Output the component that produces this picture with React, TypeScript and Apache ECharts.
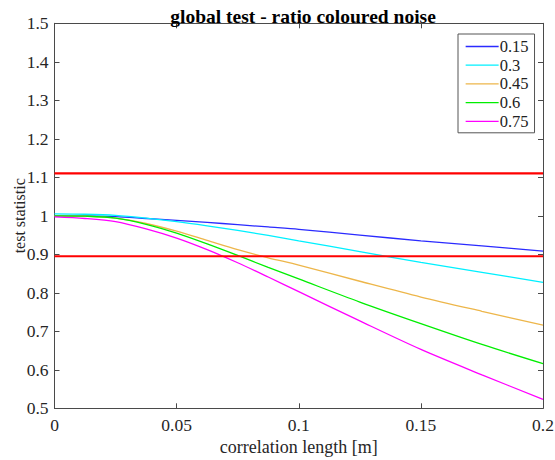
import React, { useEffect, useRef } from "react";
import * as echarts from "echarts";

const xValues = [0, 0.0125, 0.025, 0.0375, 0.05, 0.0625, 0.075, 0.0875, 0.1, 0.125, 0.15, 0.175, 0.2];
const seriesNames = ["0.15", "0.3", "0.45", "0.6", "0.75"];
const blue = [1.0, 1.0, 0.998, 0.993, 0.988, 0.983, 0.977, 0.971, 0.965, 0.95, 0.935, 0.922, 0.908];
const cyan = [1.005, 1.004, 1.001, 0.994, 0.985, 0.974, 0.962, 0.949, 0.935, 0.907, 0.879, 0.853, 0.827];
const orange = [1.0, 0.999, 0.994, 0.98, 0.96, 0.936, 0.912, 0.891, 0.872, 0.83, 0.789, 0.752, 0.716];
const green = [1.0, 0.999, 0.994, 0.978, 0.955, 0.927, 0.897, 0.866, 0.836, 0.776, 0.72, 0.666, 0.616];
const magenta = [0.997, 0.993, 0.985, 0.966, 0.942, 0.912, 0.878, 0.841, 0.803, 0.727, 0.653, 0.587, 0.523];
const thresholdUpper = 1.11;
const thresholdLower = 0.895;
const xTicks = [0, 0.05, 0.1, 0.15, 0.2];

const colors = ["#2b2bff", "#00f0ff", "#edb64a", "#00ee00", "#ff00ff"];
const FONT = "Liberation Serif";

export default function App() {
  const ref = useRef<HTMLDivElement>(null);
  useEffect(() => {
    if (!ref.current) return;
    const chart = echarts.init(ref.current, undefined, { renderer: "svg" });
    const values = [blue, cyan, orange, green, magenta];
    const axisCommon = {
      type: "value" as const,
      axisLine: { show: true, onZero: false, lineStyle: { color: "#4a4a4a", width: 1 } },
      axisTick: { show: true, inside: true, length: 5, lineStyle: { color: "#4a4a4a" } },
      splitLine: { show: false },
    };
    const fmt = (v: number) => String(+v.toFixed(4));
    chart.setOption({
      animation: false,
      backgroundColor: "#ffffff",
      textStyle: { fontFamily: FONT },
      title: {
        text: "global test - ratio coloured noise",
        left: 298,
        textAlign: "center",
        top: 1,
        textStyle: { fontFamily: FONT, fontWeight: "bold", fontSize: 19.5, color: "#000" },
      },
      legend: {
        data: seriesNames,
        orient: "vertical",
        left: 458,
        top: 34,
        itemWidth: 33,
        itemHeight: 14,
        itemGap: 1.7,
        padding: [4, 6, 3, 7],
        backgroundColor: "#ffffff",
        borderColor: "#555",
        borderWidth: 1,
        borderRadius: 0,
        itemStyle: { opacity: 0 },
        lineStyle: { width: 1.3 },
        textStyle: { fontFamily: FONT, fontSize: 16.5, color: "#222", padding: [0, 0, 0, -4] },
      },
      grid: { left: 54.5, right: 12, top: 23.3, bottom: 51.7, containLabel: false, outerBoundsMode: "none" },
      xAxis: [
        {
          ...axisCommon,
          min: 0,
          max: 0.2,
          interval: 0.05,
          name: "correlation length [m]",
          nameLocation: "middle",
          nameGap: 30,
          nameMoveOverlap: false,
          nameTextStyle: { fontFamily: FONT, fontSize: 18, color: "#262626" },
          axisLabel: { fontFamily: FONT, fontSize: 17.5, color: "#262626", margin: 8, formatter: fmt },
        },
        {
          ...axisCommon,
          position: "top",
          min: 0,
          max: 0.2,
          interval: 0.05,
          axisLabel: { show: false },
        },
      ],
      yAxis: [
        {
          ...axisCommon,
          min: 0.5,
          max: 1.5,
          interval: 0.1,
          name: "test statistic",
          nameLocation: "middle",
          nameGap: 27,
          nameMoveOverlap: false,
          nameTextStyle: { fontFamily: FONT, fontSize: 16, color: "#262626" },
          axisLabel: { fontFamily: FONT, fontSize: 17.5, color: "#262626", margin: 6, formatter: fmt },
        },
        {
          ...axisCommon,
          position: "right",
          min: 0.5,
          max: 1.5,
          interval: 0.1,
          axisLabel: { show: false },
        },
      ],
      series: [
        ...seriesNames.map((name, i) => ({
          name,
          type: "line",
          data: xValues.map((x, j) => [x, values[i][j]]),
          smooth: 0.3,
          symbol: "none",
          lineStyle: { color: colors[i], width: 1.3 },
          itemStyle: { color: colors[i] },
          z: 2,
        })),
        {
          name: "upper",
          type: "line",
          data: [[xTicks[0], thresholdUpper], [xTicks[xTicks.length - 1], thresholdUpper]],
          symbol: "none",
          lineStyle: { color: "#ff0000", width: 2.2 },
          z: 3,
        },
        {
          name: "lower",
          type: "line",
          data: [[xTicks[0], thresholdLower], [xTicks[xTicks.length - 1], thresholdLower]],
          symbol: "none",
          lineStyle: { color: "#ff0000", width: 2.2 },
          z: 3,
        },
      ],
    });
    return () => chart.dispose();
  }, []);
  return (
    <div
      ref={ref}
      style={{ position: "fixed", left: 0, top: 0, width: 555, height: 460, background: "#fff" }}
    />
  );
}
